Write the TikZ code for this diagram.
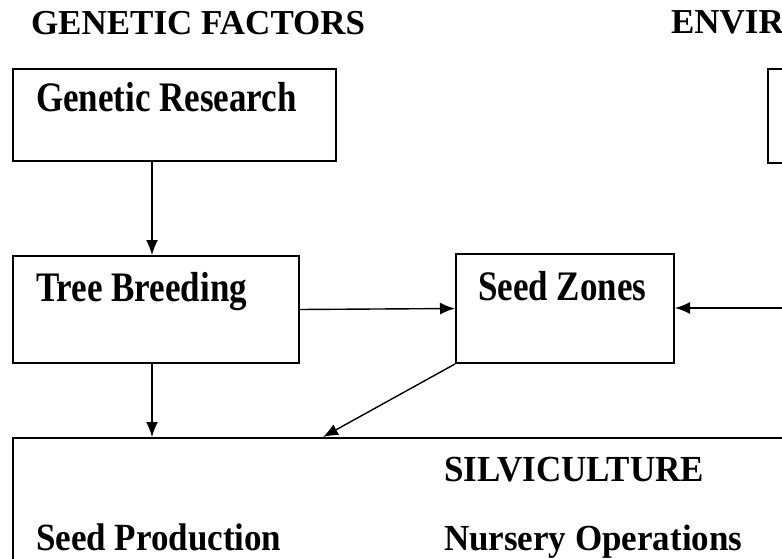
\documentclass[tikz,border=0pt]{standalone}
\usepackage{fontspec}
\setmainfont{Liberation Serif}
\usetikzlibrary{arrows.meta}

\newcommand{\tall}[2]{\scalebox{1}[#1]{#2}}

\begin{document}
\begin{tikzpicture}[x=1pt,y=-1pt,line width=2pt,font=\fontsize{35}{40}\selectfont\bfseries,
  box/.style={draw,rectangle,anchor=north west,inner sep=0pt},
  lbl/.style={anchor=base west,inner sep=0pt},
  arr/.style={-{Latex[length=15pt,width=12pt]},line width=1.4pt}]
\useasboundingbox (0,0) rectangle (782,559);
\clip (0,0) rectangle (782,559);
% headings
\node[lbl] (hgen) at (30,35) {GENETIC FACTORS};
\node[lbl] (henv) at (670,34) {ENVIR};
% boxes
\node[box,minimum width=323,minimum height=92] (gr) at (12,68) {};
\node[box,minimum width=60,minimum height=94] (env) at (767,68) {};
\node[box,minimum width=286,minimum height=107] (tb) at (12,255) {};
\node[box,minimum width=218,minimum height=109] (sz) at (455,253) {};
\node[box,minimum width=820,minimum height=200] (silv) at (12,437) {};
% texts
\node[lbl] (tgr) at (35,112) {\tall{1.2}{Genetic Research}};
\node[lbl] (ttb) at (35,301) {\tall{1.2}{Tree Breeding}};
\node[lbl] (tsz) at (477,300) {\tall{1.2}{Seed Zones}};
\node[lbl] (tsilv) at (443,481) {\tall{1.05}{SILVICULTURE}};
\node[lbl] (tsp) at (35,550) {\tall{1.1}{Seed Production}};
\node[lbl] (tno) at (443,550) {\tall{1.05}{Nursery Operations}};
% arrows
\coordinate (dn) at (152,0);
\coordinate (envin) at (800,308);
\coordinate (szhit) at (323,0);
\draw[arr] (gr.south -| dn) -- (tb.north -| dn);
\draw[arr] (tb.east) -- (sz.west);
\draw[arr] (envin) -- (sz.east |- envin);
\draw[arr] (tb.south -| dn) -- (silv.north -| dn);
\draw[arr] (sz.south west) -- (silv.north -| szhit);
\end{tikzpicture}
\end{document}
